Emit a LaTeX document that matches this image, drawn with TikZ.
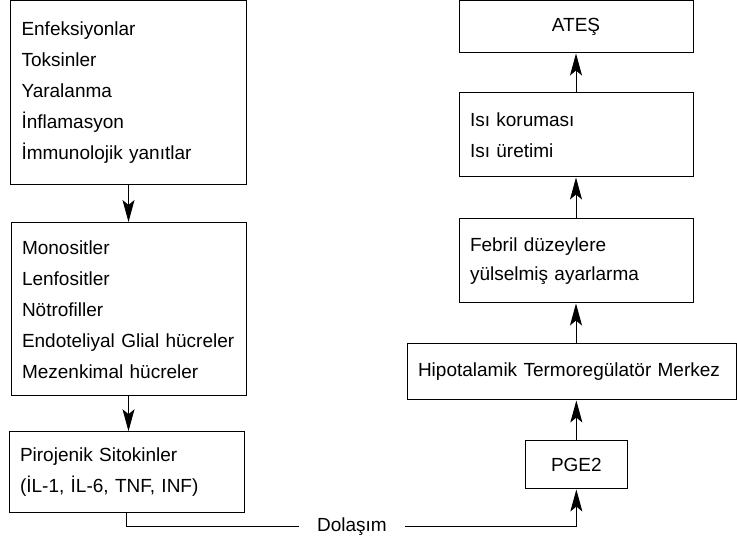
\documentclass[tikz,border=0pt]{standalone}
\usepackage{fontspec}
\setmainfont{Liberation Sans}
\usetikzlibrary{arrows.meta,positioning}

\tikzset{
  box/.style={draw=drawColor, line width=1pt, inner xsep=11pt, inner ysep=0pt, align=left, font=\fontsize{19}{31}\selectfont},
  arr/.style={draw=drawColor, line width=0.9pt, -{Stealth[length=22pt,width=12pt,inset=5pt]}},
  link/.style={draw=drawColor, line width=0.9pt},
}

\begin{document}
\begin{tikzpicture}[x=1pt,y=1pt]
\definecolor{fillColor}{RGB}{255,255,255}
\definecolor{drawColor}{RGB}{0,0,0}
\path[use as bounding box,fill=fillColor] (0,0) rectangle (737,546);

\node[box, text width=214pt, minimum height=184pt] (enf) at (128.5,453) {Enfeksiyonlar\\Toksinler\\Yaralanma\\İnflamasyon\\İmmunolojik yanıtlar};
\node[box, text width=213pt, minimum height=173.5pt] (mono) at (128.5,236.75) {Monositler\\Lenfositler\\Nötrofiller\\Endoteliyal Glial hücreler\\Mezenkimal hücreler};
\node[box, text width=213pt, minimum height=81pt] (piro) at (126.5,73.8) {Pirojenik Sitokinler\\(İL-1, İL-6, TNF, INF)};

\node[box, text width=212pt, minimum height=52pt, align=center] (ates) at (576,519) {ATEŞ};
\node[box, text width=212pt, minimum height=84pt] (isi) at (576,411) {Isı koruması\\Isı üretimi};
\node[box, text width=212pt, minimum height=84pt, font=\fontsize{19}{29}\selectfont] (febril) at (576,285) {Febril düzeylere\\yülselmiş ayarlarma};
\node[box, text width=307pt, minimum height=56pt] (hipo) at (571.5,174) {Hipotalamik Termoregülatör Merkez};
\node[box, text width=79.3pt, minimum height=48.3pt, align=center] (pge) at (576.35,81.15) {PGE2};

\node[font=\fontsize{19}{31}\selectfont, inner xsep=18pt, inner ysep=0pt] (dol) at (351.9,19.7) {Dolaşım};

\draw[arr] (enf.south) -- (mono.north);
\draw[arr] (mono.south) -- (mono.south |- piro.north);
\draw[link] (piro.south) |- (dol.west);
\draw[arr] (dol.east) -| (pge.south);
\draw[arr] (pge.north) -- (pge.north |- hipo.south);
\draw[arr] (hipo.north -| febril.south) -- (febril.south);
\draw[arr] (febril.north) -- (isi.south);
\draw[arr] (isi.north) -- (ates.south);
\end{tikzpicture}
\end{document}
